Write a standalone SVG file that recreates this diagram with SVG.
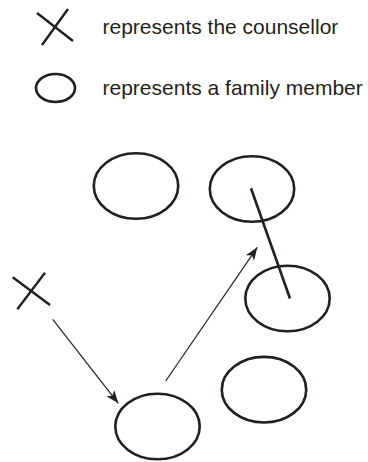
<svg xmlns="http://www.w3.org/2000/svg" width="368" height="462" viewBox="0 0 368 462">
  <style>
    .member { fill: none; stroke: #231f20; stroke-width: 2.6; }
    .cross { stroke: #231f20; stroke-width: 2.4; fill: none; }
    .label { font-family: "Liberation Sans", Arial, sans-serif; font-size: 21px; fill: #231f20; }
    .move { stroke: #231f20; stroke-width: 1.2; fill: none; marker-end: url(#ah); }
    .link { stroke: #231f20; stroke-width: 2.6; fill: none; }
  </style>
  <defs>
    <marker id="ah" viewBox="-14 -6 15 12" markerWidth="15" markerHeight="12" refX="0" refY="0" orient="auto" markerUnits="userSpaceOnUse">
      <path d="M0,0 L-13,-5 L-9.5,0 L-13,5 Z" fill="#231f20"/>
    </marker>
  </defs>
  <rect width="368" height="462" fill="#ffffff"/>

  <!-- key -->
  <g id="legend-counsellor">
    <path class="cross" d="M37,13 L73,41 M68,9 L42,45"/>
    <text class="label" x="102.5" y="34">represents the counsellor</text>
  </g>
  <g id="legend-member">
    <ellipse class="member" cx="55.5" cy="88" rx="19.5" ry="14"/>
    <text class="label" x="102.5" y="94.5">represents a family member</text>
  </g>

  <!-- counsellor -->
  <g id="counsellor">
    <path class="cross" d="M12.7,277.3 L50,305 M45,272.7 L17.3,309.3"/>
  </g>

  <!-- family members -->
  <g id="member-top-left">
    <ellipse class="member" cx="136" cy="186" rx="42.2" ry="32.8"/>
  </g>
  <g id="member-top-right">
    <ellipse class="member" cx="252" cy="189" rx="42.2" ry="32.8"/>
  </g>
  <g id="member-middle-right">
    <ellipse class="member" cx="287.5" cy="298.5" rx="42.2" ry="32.8"/>
  </g>
  <g id="member-bottom">
    <ellipse class="member" cx="157.5" cy="426.5" rx="42.2" ry="32.8"/>
  </g>
  <g id="member-bottom-right">
    <ellipse class="member" cx="264" cy="389.7" rx="42.2" ry="32.8"/>
  </g>

  <!-- connectors -->
  <g id="connectors">
    <line class="link" x1="251" y1="188.3" x2="290" y2="298.5"/>
    <line class="move" x1="52.7" y1="319.3" x2="118.3" y2="403.3"/>
    <line class="move" x1="165.7" y1="381" x2="257.3" y2="247.3"/>
  </g>
</svg>
